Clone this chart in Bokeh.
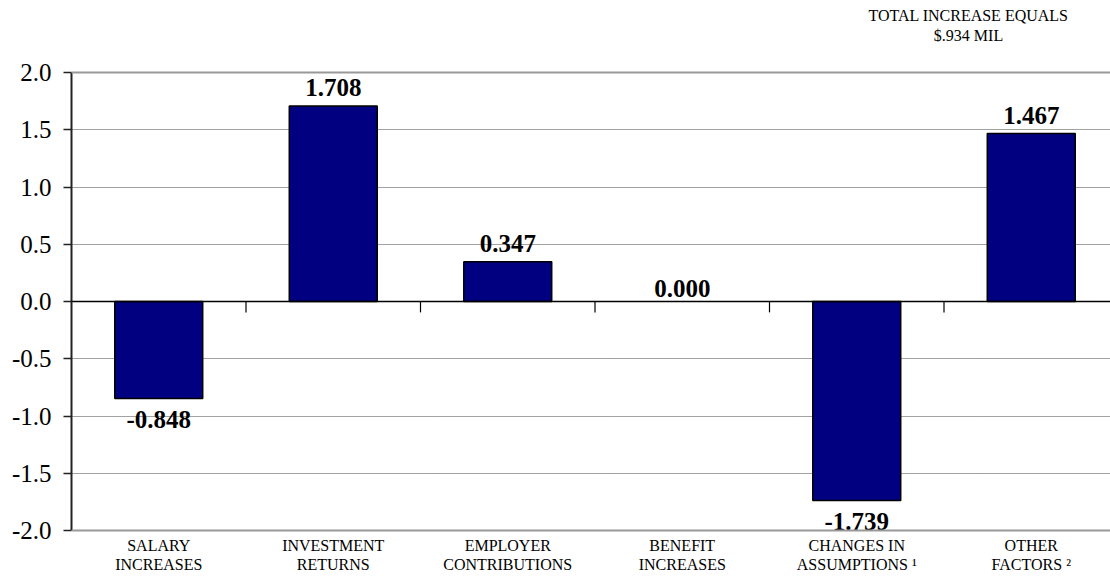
from bokeh.plotting import figure
from bokeh.models import Range1d, FixedTicker, PrintfTickFormatter, Span, Label, ColumnDataSource
from bokeh.embed import file_html
from bokeh.resources import INLINE

categories = ["SALARY\nINCREASES", "INVESTMENT\nRETURNS", "EMPLOYER\nCONTRIBUTIONS",
              "BENEFIT\nINCREASES", "CHANGES IN\nASSUMPTIONS \u00b9", "OTHER\nFACTORS \u00b2"]
values = [-0.848, 1.708, 0.347, 0.000, -1.739, 1.467]
y_ticks = [-2.0, -1.5, -1.0, -0.5, 0.0, 0.5, 1.0, 1.5, 2.0]
note = "TOTAL INCREASE EQUALS\n$.934 MIL"

FONT = "Liberation Serif"
n = len(categories)
xs = [i + 0.5 for i in range(n)]
labels = ["%.3f" % v for v in values]

PX_X = 174.5             # pixels per category
PX_Y = 114.5             # pixels per unit on the value axis
TOP_SPACE = 72 / PX_Y    # room above the 2.0 line (inside the frame) for the note
BOTTOM_SPACE = 47 / PX_Y # room below the -2.0 line (inside the frame) for category names

p = figure(width=1110, height=577, output_backend="svg", toolbar_location=None,
           x_range=Range1d(0, 1039 / PX_X),
           y_range=Range1d(y_ticks[0] - BOTTOM_SPACE, y_ticks[-1] + TOP_SPACE),
           min_border_left=71, min_border_right=0, min_border_top=0, min_border_bottom=0)
p.outline_line_color = None
p.background_fill_color = "white"
p.border_fill_color = "white"
p.xaxis.visible = False

# grid
p.xgrid.visible = False
p.ygrid.ticker = FixedTicker(ticks=y_ticks[1:-1])
p.ygrid.grid_line_color = "#444444"
p.ygrid.grid_line_dash = "1 1"
p.ygrid.grid_line_width = 1

p.add_layout(Span(location=y_ticks[-1], dimension="width", line_color="#999999", line_width=2))
p.add_layout(Span(location=y_ticks[0], dimension="width", line_color="#999999", line_width=2))
p.add_layout(Span(location=0, dimension="width", line_color="black", line_width=1.5))

# y axis
ya = p.yaxis[0]
ya.ticker = FixedTicker(ticks=y_ticks)
ya.bounds = (y_ticks[0], y_ticks[-1])
ya.formatter = PrintfTickFormatter(format="%.1f")
ya.major_label_text_font = FONT
ya.major_label_text_font_size = "25px"
ya.major_label_text_color = "black"
ya.axis_line_color = "#222222"
ya.axis_line_width = 2
ya.major_tick_line_color = "#222222"
ya.major_tick_line_width = 1.5
ya.major_tick_out = 8
ya.major_tick_in = 0
ya.minor_tick_line_color = None
ya.major_label_standoff = 12

# category names under the plot
p.text(x=xs, y=[y_ticks[0]] * n, text=categories, text_font=FONT, text_font_size="16px",
       text_color="black", text_align="center", text_baseline="top", y_offset=6,
       text_line_height=1.15)

# category boundary ticks at zero line
bounds = list(range(1, n))
p.segment(x0=bounds, y0=[0] * len(bounds), x1=bounds, y1=[-0.095] * len(bounds),
          line_color="black", line_width=1.2)

# bars (zero-height bars draw nothing visible)
nz = [i for i, v in enumerate(values) if v != 0]
p.vbar(x=[xs[i] for i in nz], top=[values[i] for i in nz], bottom=0, width=0.504,
       fill_color="#000080", line_color="black", line_width=1.5)

# value labels
def sub(cond):
    idx = [i for i, v in enumerate(values) if cond(v)]
    return ColumnDataSource(dict(x=[xs[i] for i in idx], y=[values[i] for i in idx],
                                 t=[labels[i] for i in idx]))

common = dict(text_font=FONT, text_font_size="25px", text_font_style="bold",
              text_color="black", text_align="center")
p.text(x="x", y="y", text="t", source=sub(lambda v: v > 0), text_baseline="alphabetic", y_offset=-18, **common)
p.text(x="x", y="y", text="t", source=sub(lambda v: v == 0), text_baseline="alphabetic", y_offset=-13, **common)
p.text(x="x", y="y", text="t", source=sub(lambda v: v < 0), text_baseline="top", y_offset=12, **common)

# note (in the space above the 2.0 line)
p.add_layout(Label(x=897 / PX_X, y=y_ticks[-1] + 65.5 / PX_Y, text=note,
                   text_font=FONT, text_font_size="16px", text_color="black",
                   text_align="center", text_baseline="top"))

open("out.html", "w").write(file_html(p, INLINE))
